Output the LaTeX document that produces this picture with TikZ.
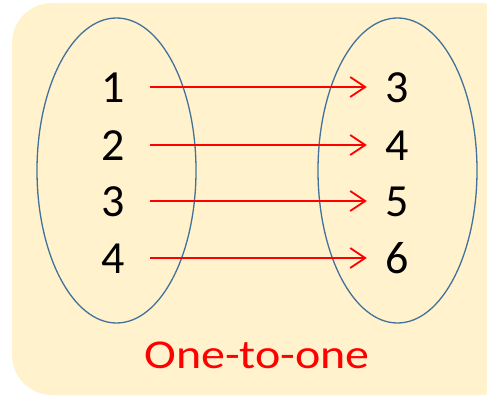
\documentclass[tikz,border=0pt]{standalone}
\usepackage{fontspec}
\setmainfont{Carlito}
\usetikzlibrary{shapes.geometric,arrows.meta}
\definecolor{bgcream}{HTML}{FFF2CC}
\definecolor{ellblue}{HTML}{41719C}
\tikzset{
  num/.style={font=\fontsize{46}{46}\selectfont, text=black, inner sep=0pt, text height=30pt, text depth=0pt, minimum width=26pt},
  setell/.style={ellipse, draw=ellblue, line width=1.3pt, minimum width=159pt, minimum height=305pt, inner sep=0pt},
  maparrow/.style={draw=red, line width=1.8pt, -{Straight Barb[length=15pt,width=20pt,line width=1.8pt]}, shorten <=24pt, shorten >=17pt},
  caption/.style={font=\fontsize{41}{41}\selectfont, text=red, inner sep=0pt, xscale=1.17}
}
\begin{document}
\begin{tikzpicture}[x=1pt,y=-1pt]
\useasboundingbox (0,0) rectangle (487,396);
\fill[bgcream, rounded corners=40pt] (12,3) rectangle (520,395);
\node[setell] (L) at (116.5,170.5) {};
\node[setell] (R) at (397.5,170.5) {};
\node[num] (a1) at (113,87) {1};
\node[num] (a2) at (113,145) {2};
\node[num] (a3) at (113,201) {3};
\node[num] (a4) at (113,258) {4};
\node[num] (b1) at (397,87) {3};
\node[num] (b2) at (397,145) {4};
\node[num] (b3) at (397,201) {5};
\node[num] (b4) at (397,258) {6};
\draw[maparrow] (a1.east) -- (b1.west);
\draw[maparrow] (a2.east) -- (b2.west);
\draw[maparrow] (a3.east) -- (b3.west);
\draw[maparrow] (a4.east) -- (b4.west);
\node[caption, anchor=base] (cap) at (257,368) {One-to-one};
\end{tikzpicture}
\end{document}
